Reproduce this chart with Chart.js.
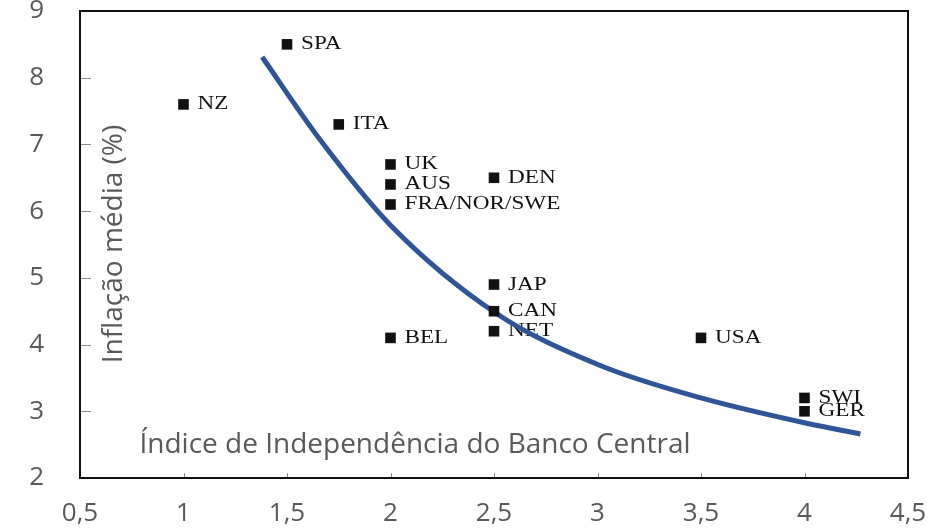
<!DOCTYPE html>
<html>
<head>
<meta charset="utf-8">
<script src="https://cdn.jsdelivr.net/npm/chart.js@4"></script>
<style>
  body { margin: 0; background: #fff; }
  canvas { display: block; }
</style>
</head>
<body>
<canvas id="grafico" width="945" height="530"></canvas>
<script>
// países e valores
const paises = ['SPA', 'NZ', 'ITA', 'UK', 'AUS', 'FRA/NOR/SWE', 'DEN', 'JAP', 'CAN', 'NET', 'BEL', 'USA', 'SWI', 'GER'];
const indice = [1.5, 1.0, 1.75, 2.0, 2.0, 2.0, 2.5, 2.5, 2.5, 2.5, 2.0, 3.5, 4.0, 4.0];
const inflacao = [8.5, 7.6, 7.3, 6.7, 6.4, 6.1, 6.5, 4.9, 4.5, 4.2, 4.1, 4.1, 3.2, 3.0];

// curva de tendência
const curvaX = [1.38, 1.66, 2.0, 2.51, 3.01, 3.5, 4.01, 4.27];
const curvaY = [8.31, 7.07, 5.79, 4.47, 3.69, 3.2, 2.82, 2.66];

const ticksX = [0.5, 1, 1.5, 2, 2.5, 3, 3.5, 4, 4.5];
const ticksY = [2, 3, 4, 5, 6, 7, 8, 9];

const tituloX = 'Índice de Independência do Banco Central';
const tituloY = 'Inflação média (%)';

const fonteEixo = { family: '"Open Sans", sans-serif', size: 26 };
const corTexto = '#595959';

// moldura, marcas internas, rótulos dos pontos e títulos
const pluginDesenho = {
    id: 'desenho',
    beforeDatasetsDraw(chart) {
        const ctx = chart.ctx;
        const area = chart.chartArea;
        ctx.save();

        // marcas internas
        ctx.strokeStyle = '#8a8a8a';
        ctx.lineWidth = 1;
        chart.scales.y.ticks.forEach((t, i) => {
            const y = Math.round(chart.scales.y.getPixelForTick(i)) + 0.5;
            ctx.beginPath();
            ctx.moveTo(area.left, y);
            ctx.lineTo(area.left + 11, y);
            ctx.stroke();
        });
        chart.scales.x.ticks.forEach((t, i) => {
            const x = Math.round(chart.scales.x.getPixelForTick(i)) + 0.5;
            ctx.beginPath();
            ctx.moveTo(x, area.bottom);
            ctx.lineTo(x, area.bottom - 5);
            ctx.stroke();
        });

        // moldura
        ctx.strokeStyle = '#111';
        ctx.lineWidth = 2;
        ctx.strokeRect(area.left, area.top, area.right - area.left, area.bottom - area.top);

        // rótulos dos países
        const meta = chart.getDatasetMeta(0);
        ctx.fillStyle = '#111';
        ctx.font = '19px "Liberation Serif", "Times New Roman", serif';
        ctx.textBaseline = 'middle';
        ctx.textAlign = 'left';
        meta.data.forEach((pt, i) => {
            ctx.save();
            ctx.translate(pt.x + 14, pt.y);
            ctx.scale(1.22, 1);
            ctx.fillText(paises[i], 0, 0);
            ctx.restore();
        });

        // títulos
        ctx.fillStyle = corTexto;
        ctx.font = '28px "Open Sans", sans-serif';
        ctx.textAlign = 'center';
        ctx.fillText(tituloX, area.left + 335, area.bottom - 33);

        ctx.translate(area.left + 34, area.top + 233);
        ctx.rotate(-Math.PI / 2);
        ctx.fillText(tituloY, 0, 0);
        ctx.restore();
    }
};

const ctx = document.getElementById('grafico').getContext('2d');

new Chart(ctx, {
    type: 'scatter',
    data: {
        datasets: [
            {
                label: 'Países',
                data: indice.map((x, i) => ({ x: x, y: inflacao[i] })),
                pointStyle: 'rect',
                pointRadius: 7.5,
                backgroundColor: '#111',
                borderColor: '#111',
                borderWidth: 0
            },
            {
                label: 'Curva',
                data: curvaX.map((x, i) => ({ x: x, y: curvaY[i] })),
                showLine: true,
                pointRadius: 0,
                borderColor: '#2F5597',
                borderWidth: 5,
                cubicInterpolationMode: 'monotone',
                fill: false
            }
        ]
    },
    options: {
        responsive: false,
        animation: false,
        layout: { padding: { top: 11, right: 37, left: 0, bottom: 0 } },
        plugins: {
            legend: { display: false },
            tooltip: { enabled: false }
        },
        scales: {
            x: {
                type: 'linear',
                min: 0.5,
                max: 4.5,
                grid: { display: false, drawTicks: false },
                border: { display: false },
                afterBuildTicks: (s) => { s.ticks = ticksX.map(v => ({ value: v })); },
                afterFit: (s) => { s.height = 52; s.paddingLeft = 0; s.paddingRight = 0; },
                ticks: {
                    font: fonteEixo,
                    color: corTexto,
                    padding: 20,
                    maxRotation: 0,
                    callback: (v) => String(v).replace('.', ',')
                }
            },
            y: {
                min: 2,
                max: 9,
                grid: { display: false, drawTicks: false },
                border: { display: false },
                afterBuildTicks: (s) => { s.ticks = ticksY.map(v => ({ value: v })); },
                afterFit: (s) => { s.width = 80; s.paddingTop = 0; s.paddingBottom = 0; },
                ticks: {
                    font: fonteEixo,
                    color: corTexto,
                    padding: 36
                }
            }
        }
    },
    plugins: [pluginDesenho]
});
</script>
</body>
</html>
